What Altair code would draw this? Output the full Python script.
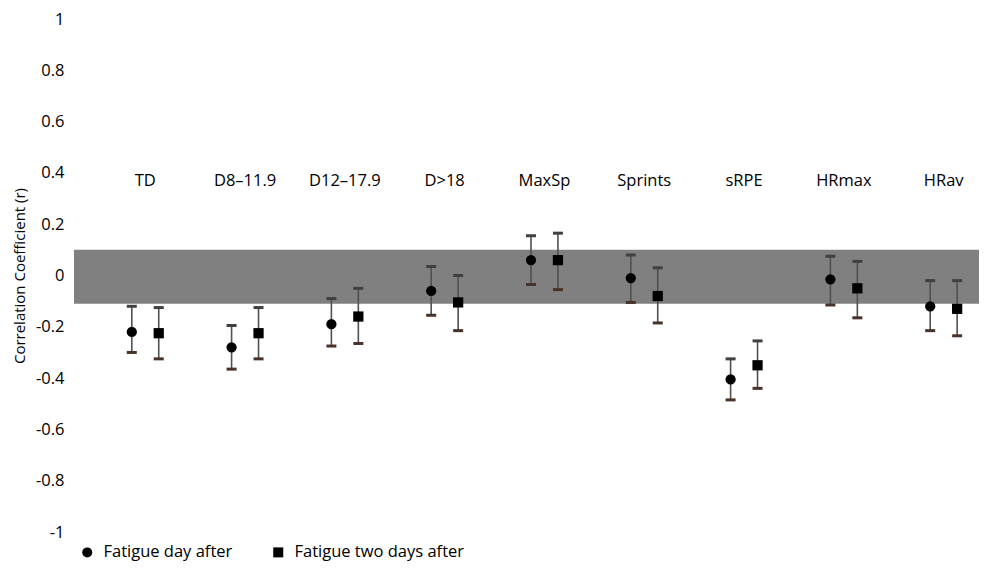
import altair as alt
import pandas as pd

categories = ["TD", "D8–11.9", "D12–17.9", "D>18", "MaxSp", "Sprints", "sRPE", "HRmax", "HRav"]
series_names = ["Fatigue day after", "Fatigue two days after"]

day_after = [-0.22, -0.28, -0.19, -0.06, 0.06, -0.01, -0.405, -0.015, -0.12]
day_after_lo = [-0.30, -0.365, -0.275, -0.155, -0.035, -0.105, -0.485, -0.115, -0.215]
day_after_hi = [-0.12, -0.195, -0.09, 0.035, 0.155, 0.08, -0.325, 0.075, -0.02]

two_days = [-0.225, -0.225, -0.16, -0.105, 0.06, -0.08, -0.35, -0.05, -0.13]
two_days_lo = [-0.325, -0.325, -0.265, -0.215, -0.055, -0.185, -0.44, -0.165, -0.235]
two_days_hi = [-0.125, -0.125, -0.05, 0.0, 0.165, 0.03, -0.255, 0.055, -0.02]

y_ticks = [1, 0.8, 0.6, 0.4, 0.2, 0, -0.2, -0.4, -0.6, -0.8, -1]
band_lo = [-0.11]
band_hi = [0.10]

rows = []
for i, c in enumerate(categories):
    rows.append(dict(cat=c, idx=i, series=series_names[0], r=day_after[i], lo=day_after_lo[i], hi=day_after_hi[i]))
    rows.append(dict(cat=c, idx=i, series=series_names[1], r=two_days[i], lo=two_days_lo[i], hi=two_days_hi[i]))
df = pd.DataFrame(rows)
cat_df = pd.DataFrame({"cat": categories, "idx": list(range(len(categories)))})
band_df = pd.DataFrame({"lo": band_lo, "hi": band_hi})

W, H = 905, 513
FONT = "Open Sans"
xscale = alt.Scale(domain=[-0.714, 8.354], nice=False, zero=False)
yscale = alt.Scale(domain=[-1, 1], nice=False, zero=False)

yaxis = alt.Axis(
    values=y_ticks,
    labelExpr="toString(round(datum.value*10)/10)",
    ticks=False, domain=False, grid=False,
    labelFont=FONT, labelFontSize=16.5, labelColor="black", labelPadding=10,
    labelFlush=False, labelOverlap=False,
    title="Correlation Coefficient (r)", titleFont=FONT, titleFontSize=15,
    titleFontWeight="normal", titleColor="black", titlePadding=8,
)

band = alt.Chart(band_df).mark_rect(color="#808080").encode(
    x=alt.value(0), x2=alt.value(W),
    y=alt.Y("hi:Q", scale=yscale, axis=yaxis), y2="lo:Q",
)

base = alt.Chart(df).transform_calculate(
    xpos="datum.idx + (datum.series == 'Fatigue day after' ? -0.135 : 0.135)"
)
X = alt.X("xpos:Q", scale=xscale, axis=None)

rules = base.mark_rule(color="#505050", strokeWidth=1.6).encode(
    x=X, y=alt.Y("lo:Q", scale=yscale, axis=yaxis), y2="hi:Q"
)
caps_hi = base.mark_tick(orient="horizontal", size=10, thickness=3, color="#404040", opacity=1).encode(
    x=X, y=alt.Y("hi:Q", scale=yscale, axis=yaxis)
)
caps_lo = base.mark_tick(orient="horizontal", size=10, thickness=3, color="#47332a", opacity=1).encode(
    x=X, y=alt.Y("lo:Q", scale=yscale, axis=yaxis)
)
points = base.mark_point(filled=True, size=105, opacity=1).encode(
    x=X,
    y=alt.Y("r:Q", scale=yscale, axis=yaxis),
    shape=alt.Shape(
        "series:N",
        scale=alt.Scale(domain=series_names, range=["circle", "square"]),
        legend=alt.Legend(
            title=None, orient="none", legendX=5, legendY=525, direction="horizontal",
            labelFont=FONT, labelFontSize=16.5, labelColor="black", symbolSize=100,
            symbolFillColor="black", symbolStrokeColor="black", symbolStrokeWidth=0,
            labelOffset=8, columnPadding=37, padding=0, labelLimit=0,
        ),
    ),
    color=alt.value("black"),
)
labels = alt.Chart(cat_df).mark_text(font=FONT, fontSize=16.5, color="black").encode(
    x=alt.X("idx:Q", scale=xscale, axis=None),
    y=alt.YDatum(0.37, type="quantitative", scale=yscale, axis=yaxis),
    text="cat:N",
)

chart = alt.layer(band, rules, caps_hi, caps_lo, points, labels).properties(
    width=W, height=H,
    autosize=alt.AutoSizeParams(type="none"),
    padding={"left": 66, "top": 11, "right": 0, "bottom": 29},
).configure_view(strokeWidth=0)

chart.save("out.html", embed_options={"renderer": "svg", "actions": False})
